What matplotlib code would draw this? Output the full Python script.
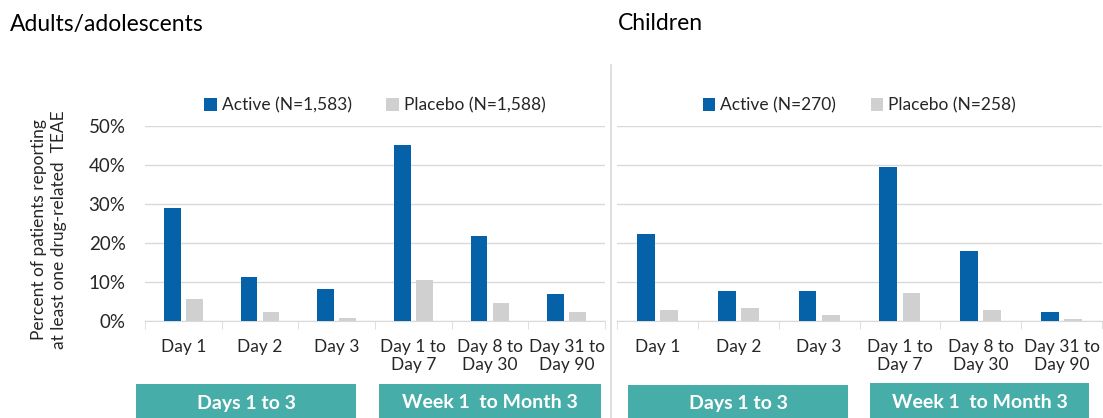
import matplotlib
matplotlib.use("Agg")
import matplotlib.pyplot as plt
from matplotlib.patches import Rectangle
from matplotlib.ticker import PercentFormatter
import numpy as np

categories = ["Day 1", "Day 2", "Day 3", "Day 1 to\nDay 7", "Day 8 to\nDay 30", "Day 31 to\nDay 90"]
adult_active = [29.0, 11.3, 8.1, 45.0, 21.6, 6.8]
adult_placebo = [5.5, 2.3, 0.8, 10.5, 4.5, 2.3]
child_active = [22.2, 7.6, 7.6, 39.3, 18.0, 2.2]
child_placebo = [2.7, 3.3, 1.5, 7.1, 2.8, 0.5]
adult_labels = ["Active (N=1,583)", "Placebo (N=1,588)"]
child_labels = ["Active (N=270)", "Placebo (N=258)"]
group_labels = ["Days 1 to 3", "Week 1  to Month 3"]

BLUE = "#0562A8"
GREY = "#D0D0D0"
TEAL = "#47ADA8"
GRID = "#D9D9D9"
TXT = "#262626"

plt.rcParams["font.family"] = ["Lato", "DejaVu Sans"]

W, H = 1103, 418
fig = plt.figure(figsize=(W / 100, H / 100), dpi=100)


def px(x0, y0, x1, y1):
    # pixel box -> figure fraction rect
    return [x0 / W, 1 - y1 / H, (x1 - x0) / W, (y1 - y0) / H]


def panel(rect, active, placebo, labels, show_y):
    ax = fig.add_axes(rect)
    x = np.arange(len(categories))
    ax.bar(x - 0.143, active, 0.22, color=BLUE, label=labels[0], zorder=3)
    ax.bar(x + 0.143, placebo, 0.22, color=GREY, label=labels[1], zorder=3)
    ax.set_xlim(-0.5, len(categories) - 0.5)
    ax.set_ylim(0, 50)
    ax.set_yticks(range(0, 51, 10))
    ax.yaxis.set_major_formatter(PercentFormatter(decimals=0))
    ax.grid(axis="y", color=GRID, lw=1, zorder=0)
    for s in ["top", "right", "left"]:
        ax.spines[s].set_visible(False)
    ax.spines["bottom"].set_color(GRID)
    ax.set_xticks(x)
    ax.set_xticklabels(categories, fontsize=12.5, color=TXT, linespacing=1.2)
    ax.set_xticks(np.arange(-0.5, len(categories), 1), minor=True)
    ax.tick_params(axis="x", which="major", length=0, pad=13)
    ax.tick_params(axis="x", which="minor", length=6, color=GRID)
    ax.tick_params(axis="y", length=0, pad=14, labelsize=13.5, labelcolor=TXT)
    if not show_y:
        ax.tick_params(axis="y", labelleft=False)
    ax.legend(loc="lower center", bbox_to_anchor=(0.5, 1.0), ncol=2, frameon=False,
              fontsize=12.5, handlelength=0.7, handleheight=0.7, handletextpad=0.3,
              columnspacing=2.0, borderaxespad=0.3, labelcolor=TXT)
    return ax


panel(px(145, 125.7, 605, 320.7), adult_active, adult_placebo, adult_labels, True)
panel(px(617, 125.7, 1102, 320.7), child_active, child_placebo, child_labels, False)

# panel titles
fig.text(10 / W, 1 - 24 / H, "Adults/adolescents", fontsize=16.5, va="center", ha="left", color="black")
fig.text(618 / W, 1 - 24 / H, "Children", fontsize=16.5, va="center", ha="left", color="black")

# y label
fig.text(49 / W, 1 - 230 / H, "Percent of patients reporting\nat least one drug-related  TEAE",
         rotation=90, ha="center", va="center", fontsize=12.5, color=TXT, linespacing=1.35)

# separator
fig.add_artist(plt.Line2D([611 / W, 611 / W], [0, 1 - 65 / H], color=GRID, lw=1.2))

# teal group boxes
boxes = [(136, 384, 356), (379, 384, 601), (628, 385, 848), (870, 383, 1089)]
for i, (x0, y0, x1) in enumerate(boxes):
    r = px(x0, y0, x1, H + 2)
    fig.add_artist(Rectangle((r[0], r[1]), r[2], r[3], transform=fig.transFigure,
                             facecolor=TEAL, edgecolor="none"))
    fig.text((x0 + x1) / 2 / W, 1 - 403 / H, group_labels[i % 2], ha="center", va="center",
             fontsize=14, fontweight="bold", color="white")

fig.savefig("out.png", dpi=100)
